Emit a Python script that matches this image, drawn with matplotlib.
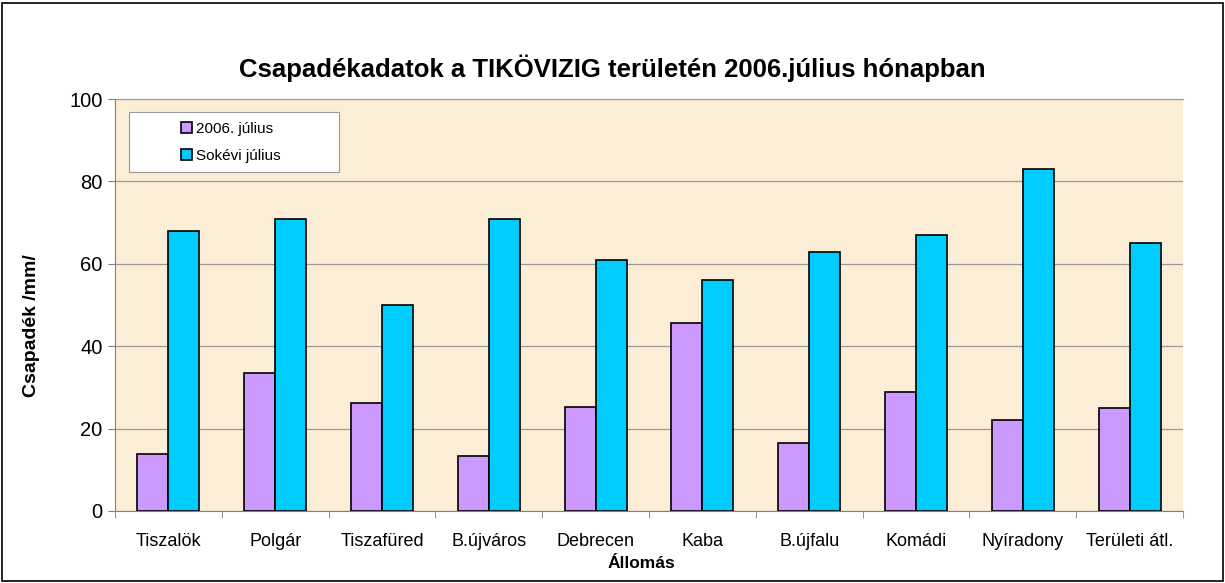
import matplotlib
matplotlib.use("Agg")
import matplotlib.pyplot as plt
import numpy as np
from matplotlib.patches import Rectangle

stations = ["Tiszalök", "Polgár", "Tiszafüred", "B.újváros", "Debrecen", "Kaba",
            "B.újfalu", "Komádi", "Nyíradony", "Területi átl."]
july_2006 = [13.8, 33.5, 26.3, 13.3, 25.2, 45.6, 16.5, 29.0, 22.0, 25.0]
longterm_july = [68, 71, 50, 71, 61, 56, 63, 67, 83, 65]
series_names = ["2006. július", "Sokévi július"]
yticks = [0, 20, 40, 60, 80, 100]

plt.rcParams['font.family'] = ['Liberation Sans', 'DejaVu Sans']

fig = plt.figure(figsize=(12.25, 5.83), dpi=100)
fig.patches.append(Rectangle((0.002, 0.004), 0.996, 0.99, transform=fig.transFigure,
                             fill=False, edgecolor='black', linewidth=1.2))
ax = fig.add_axes([0.0939, 0.1235, 0.8718, 0.7065])
ax.set_facecolor('#FCEED6')

x = np.arange(len(stations))
w = 0.29
ax.bar(x - w/2, july_2006, w, color='#CC99FF', edgecolor='black', linewidth=1.2,
       label=series_names[0], zorder=3)
ax.bar(x + w/2, longterm_july, w, color='#00CCFF', edgecolor='black', linewidth=1.2,
       label=series_names[1], zorder=3)

ax.set_xlim(-0.5, len(stations) - 0.5)
ax.set_ylim(0, 100)
ax.set_yticks(yticks)
ax.set_yticklabels([str(v) for v in yticks], fontsize=14.5)
ax.yaxis.grid(True, color='#999999', linewidth=0.9, zorder=0)
ax.set_xticks(x)
ax.set_xticklabels(stations, fontsize=13)
ax.tick_params(axis='x', length=0, pad=16)
ax.set_xticks(np.arange(-0.5, len(stations)), minor=True)
ax.tick_params(axis='x', which='minor', length=5, color='#808080')
ax.tick_params(axis='y', length=5, color='#808080', pad=4)

ax.spines['top'].set_color('#999999')
ax.spines['right'].set_visible(False)
ax.spines['left'].set_color('#808080')
ax.spines['bottom'].set_color('#808080')

fig.text(641 / 1225, 1 - 563 / 583, "Állomás", ha='center', va='center',
         fontsize=12.5, fontweight='bold')
ax.set_ylabel("Csapadék /mm/", fontsize=14, fontweight='bold')
ax.yaxis.set_label_coords(-0.0705, 0.451)
fig.text(0.5, 1 - 68 / 583, "Csapadékadatok a TIKÖVIZIG területén 2006.július hónapban",
         ha='center', va='center', fontsize=18.5, fontweight='bold')

ax.add_patch(Rectangle((0.0131, 0.8228), 0.1966, 0.1456, transform=ax.transAxes,
                       facecolor='white', edgecolor='#999999', linewidth=0.8, zorder=5))
leg = ax.legend(loc='center left', bbox_to_anchor=(0.0618, 0.8956), fontsize=11,
                frameon=False, handlelength=0.75, handleheight=0.75, handletextpad=0.25,
                borderpad=0, labelspacing=0.85, borderaxespad=0)
leg.set_zorder(6)
for h in leg.legend_handles:
    h.set_linewidth(1.2)

fig.savefig("out.png", dpi=100)
